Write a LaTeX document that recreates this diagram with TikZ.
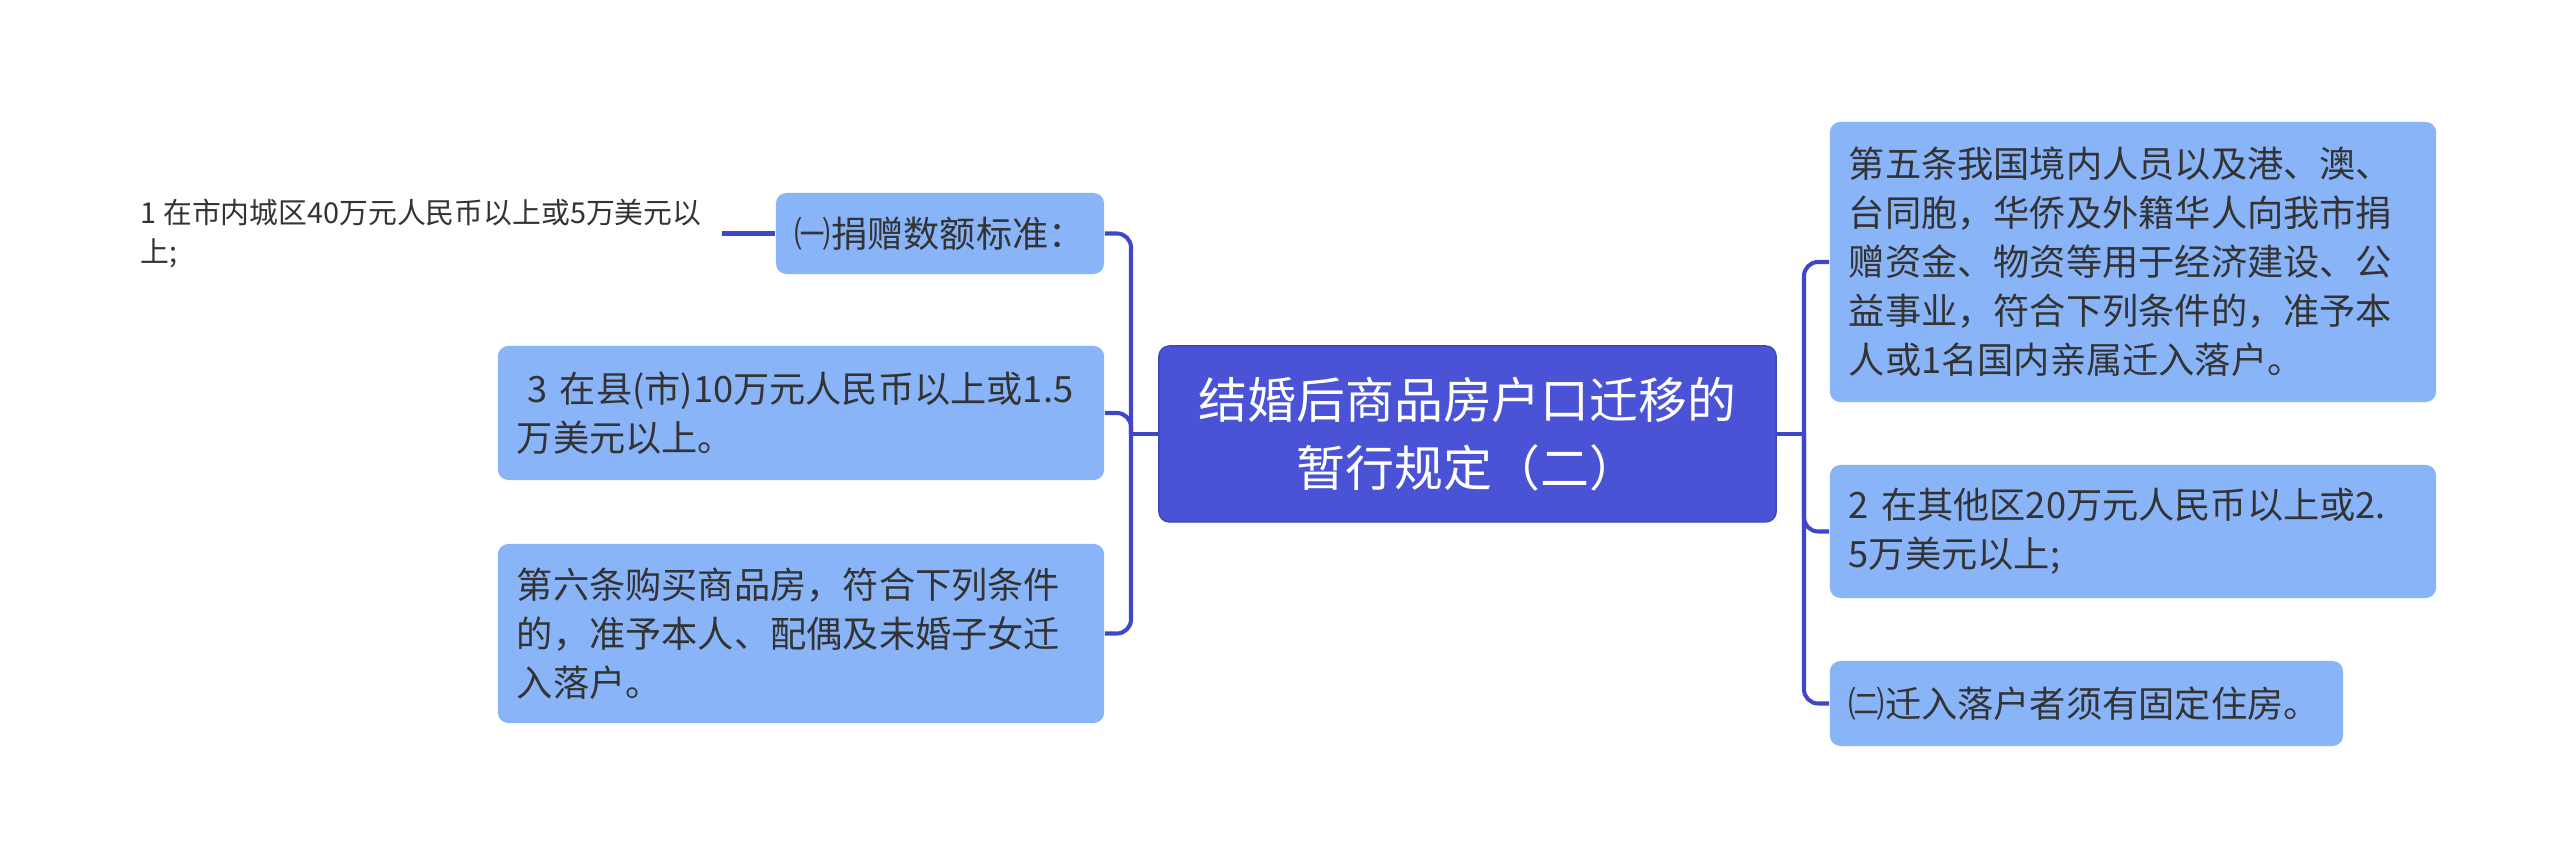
\documentclass[tikz,border=0pt]{standalone}
\usepackage{fontspec}
\setmainfont{Noto Sans CJK SC}
\usetikzlibrary{positioning}
\definecolor{indigo}{HTML}{4A52D6}
\definecolor{skyblue}{HTML}{8AB4F8}
\definecolor{linkblue}{HTML}{4046CA}
\definecolor{inkgrey}{HTML}{333333}
\tikzset{
  root/.style={rectangle, rounded corners=3pt, draw=indigo!85!black, fill=indigo,
    text=white, align=center, font=\fontsize{13.9pt}{19.5pt}\selectfont,
    minimum width=6.17cm, minimum height=1.76cm},
  topic/.style={rectangle, rounded corners=3pt, fill=skyblue, text=inkgrey,
    align=left, inner xsep=0.19cm, font=\fontsize{10.3pt}{13.9pt}\selectfont},
  note/.style={align=left, inner xsep=0.2cm, inner ysep=0pt, text=inkgrey,
    font=\fontsize{8.2pt}{11.1pt}\selectfont},
  link/.style={draw=linkblue, line width=1.15pt, rounded corners=4pt},
}
\begin{document}
\begin{tikzpicture}[x=0.01cm, y=-0.01cm]
\useasboundingbox (0,0) rectangle (2560,868);
% centre
\node[root] (main) at (1467.5,434) {结婚后商品房户口迁移的\\暂行规定（二）};
% left branch
\node[topic, text width=2.9cm, minimum height=0.81cm] (give) at (940,233.5) {㈠捐赠数额标准：};
\node[topic, text width=5.68cm, minimum height=1.34cm] (county) at (801,413) {\hspace*{0.3em}3~在县(市)10万元人民币以上或1.5\\万美元以上。};
\node[topic, text width=5.68cm, minimum height=1.79cm] (buy) at (801,633.5) {第六条购买商品房，符合下列条件\\的，准予本人、配偶及未婚子女迁\\入落户。};
\node[note, left=0.53cm of give] (city) {1~在市内城区40万元人民币以上或5万美元以\\上;};
% right branch
\node[topic, text width=5.68cm, minimum height=2.8cm] (art5) at (2133,262) {第五条我国境内人员以及港、澳、\\台同胞，华侨及外籍华人向我市捐\\赠资金、物资等用于经济建设、公\\益事业，符合下列条件的，准予本\\人或1名国内亲属迁入落户。};
\node[topic, text width=5.68cm, minimum height=1.33cm] (other) at (2133,531.5) {2~在其他区20万元人民币以上或2.\\5万美元以上;};
\node[topic, text width=4.75cm, minimum height=0.85cm] (house) at (2086.5,703.5) {㈡迁入落户者须有固定住房。};
% connectors
\coordinate (lbus) at (1131,434);
\coordinate (rbus) at (1804,434);
\draw[link] (main.west) -- (lbus);
\foreach \n in {give,county,buy} \draw[link] (lbus) |- (\n.east);
\draw[link] (main.east) -- (rbus);
\foreach \n in {art5,other,house} \draw[link] (rbus) |- (\n.west);
\draw[link] (city.east) -- (give.west);
\end{tikzpicture}
\end{document}
